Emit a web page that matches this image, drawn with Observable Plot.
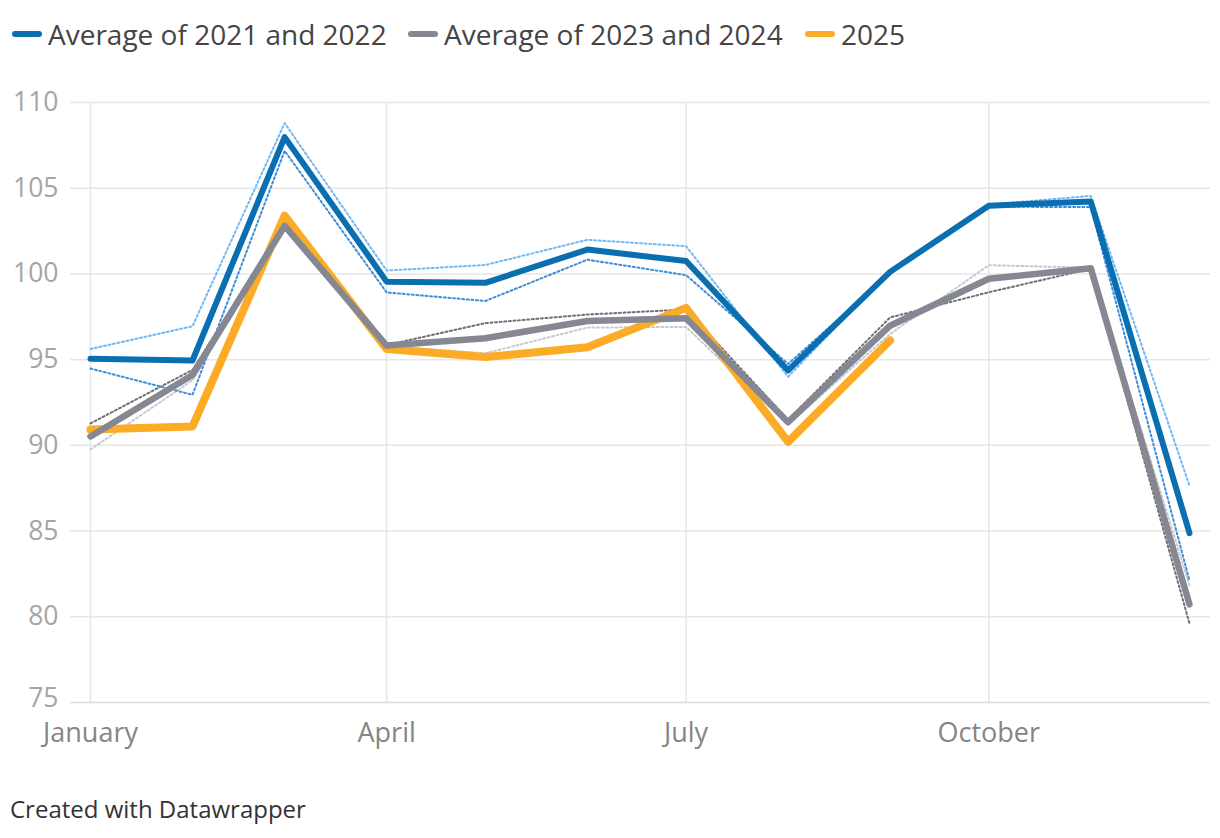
<!DOCTYPE html>
<html>
<head>
<meta charset="utf-8">
<script src="https://cdn.jsdelivr.net/npm/d3@7"></script>
<script src="https://cdn.jsdelivr.net/npm/@observablehq/plot@0.6"></script>
<style>
  body { margin: 0; background: #fff; font-family: "Open Sans", "Noto Sans", sans-serif; }
  #wrap { width: 1220px; height: 838px; position: relative; }
  #legend { height: 70px; position: relative; font-size: 28px; color: #444; }
  .item { position: absolute; top: 14px; display: flex; align-items: center; height: 40px; white-space: nowrap; }
  .sw { width: 30px; height: 6px; border-radius: 3px; margin-right: 6px; }
  #footer { position: absolute; left: 10px; top: 792px; font-size: 24px; color: #333; }
</style>
</head>
<body>
<div id="wrap">
  <div id="legend"></div>
  <div id="chart"></div>
  <div id="footer">Created with Datawrapper</div>
</div>
<script>
const months = ["2025-01-01","2025-02-01","2025-03-01","2025-04-01","2025-05-01","2025-06-01","2025-07-01","2025-08-01","2025-09-01","2025-10-01","2025-11-01","2025-12-01"];
const avg2122 = [95.05, 94.95, 107.98, 99.55, 99.48, 101.42, 100.75, 94.37, 100.12, 103.98, 104.22, 84.88];
const avg2324 = [90.52, 94.1, 102.8, 95.82, 96.25, 97.25, 97.42, 91.35, 96.98, 99.72, 100.33, 80.72];
const y2025 = [90.92, 91.1, 103.4, 95.62, 95.15, 95.72, 98.02, 90.2, 96.12];
const y2021 = [95.62, 96.95, 108.8, 100.2, 100.52, 101.99, 101.62, 94.0, 100.2, 104.05, 104.55, 87.65];
const y2022 = [94.48, 92.95, 107.18, 98.92, 98.42, 100.83, 99.93, 94.75, 100.05, 103.92, 103.9, 82.1];
const y2023 = [91.28, 94.4, 102.9, 95.85, 97.13, 97.63, 97.93, 91.5, 97.46, 98.93, 100.3, 79.6];
const y2024 = [89.76, 93.8, 102.7, 95.79, 95.37, 96.87, 96.91, 91.2, 96.5, 100.51, 100.36, 81.84];
const yTicks = [75, 80, 85, 90, 95, 100, 105, 110];
const xTickDates = ["2025-01-01","2025-04-01","2025-07-01","2025-10-01"];
const xTickLabels = ["January","April","July","October"];

const legendItems = [
  {label: "Average of 2021 and 2022", color: "#0a6fb0"},
  {label: "Average of 2023 and 2024", color: "#858892"},
  {label: "2025", color: "#fbab26"}
];
const legendLeft = [12, 408, 805];

const toRows = vals => vals.map((v, i) => ({date: new Date(months[i]), value: v}));

const legend = document.getElementById("legend");
legendItems.forEach((it, i) => {
  const d = document.createElement("div");
  d.className = "item";
  d.style.left = legendLeft[i] + "px";
  d.innerHTML = `<span class="sw" style="background:${it.color}"></span><span>${it.label}</span>`;
  legend.appendChild(d);
});

const xt = xTickDates.map(d => new Date(d));
const dotted = (vals, color) => Plot.line(toRows(vals), {x: "date", y: "value", stroke: color, strokeWidth: 2, strokeDasharray: "2 2.6", strokeLinejoin: "round"});
const thick = (vals, color, w) => Plot.line(toRows(vals), {x: "date", y: "value", stroke: color, strokeWidth: w, strokeLinecap: "round", strokeLinejoin: "round"});

const chart = Plot.plot({
  width: 1220,
  height: 700,
  marginTop: 32,
  marginBottom: 68,
  marginLeft: 90,
  marginRight: 31,
  style: {fontFamily: "'Open Sans', 'Noto Sans', sans-serif", background: "transparent", overflow: "visible"},
  x: {type: "utc", domain: [new Date(months[0]), new Date(months[11])]},
  y: {domain: [75, 110]},
  marks: [
    Plot.ruleY(yTicks.filter(t => t !== 75), {y: d => d, stroke: "#e6e6e6", strokeWidth: 1.5, insetLeft: -20, insetRight: -21}),
    Plot.ruleX(xt, {x: d => d, y1: 75, y2: 110, stroke: "#e6e6e6", strokeWidth: 1.5}),
    Plot.ruleY([75], {stroke: "#dcdcdc", strokeWidth: 1.5, insetLeft: -20, insetRight: -21}),
    Plot.axisY(yTicks.filter(t => t !== 75), {tickSize: 0, tickPadding: 32, fontSize: 26.5, fill: "#a5a5a5", label: null}),
    Plot.axisY([75], {tickSize: 0, tickPadding: 32, fontSize: 26.5, fill: "#a5a5a5", label: null, dy: -4}),
    Plot.axisX({ticks: xt, tickSize: 0, tickPadding: 20, fontSize: 27, fill: "#858585", label: null,
      tickFormat: d => xTickLabels[xt.findIndex(t => +t === +d)]}),
    dotted(y2024, "#c6c9d1"),
    dotted(y2023, "#6e6f78"),
    dotted(y2021, "#72b8f2"),
    dotted(y2022, "#3d8ddc"),
    thick(avg2122, "#0a6fb0", 6),
    thick(y2025, "#fbab26", 8),
    thick(avg2324, "#858892", 6.5)
  ]
});
document.getElementById("chart").appendChild(chart);
</script>
</body>
</html>
